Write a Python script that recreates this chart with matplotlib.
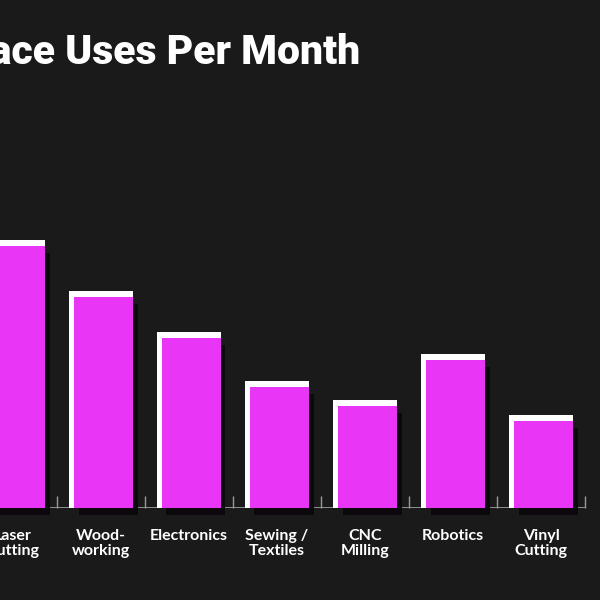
import matplotlib
matplotlib.use("Agg")
import matplotlib.pyplot as plt
from matplotlib.transforms import offset_copy
import numpy as np

categories = ["Laser\nCutting", "Wood-\nworking", "Electronics", "Sewing /\nTextiles",
              "CNC\nMilling", "Robotics", "Vinyl\nCutting"]
uses = [262, 211, 170, 121, 102, 148, 87]
title = "Makerspace Uses Per Month"

BG = "#1a1a1a"
MAG = "#e935f6"
W, H = 600, 600
fig = plt.figure(figsize=(6, 6), dpi=100, facecolor=BG)

# axes geometry in pixels (chart is a crop of a wider chart)
ax_left_px, ax_right_px = -31, 585
ax_bottom_px, ax_top_px = 92, 492
ax = fig.add_axes([ax_left_px / W, ax_bottom_px / H,
                   (ax_right_px - ax_left_px) / W, (ax_top_px - ax_bottom_px) / H])
ax.set_facecolor(BG)
n = len(categories)
ax.set_xlim(-0.5, n - 0.5)
ax.set_ylim(0, 400)

px_x = (n) / (ax_right_px - ax_left_px)      # data units per pixel (x)
px_y = 400 / (ax_top_px - ax_bottom_px)      # data units per pixel (y)

x = np.arange(n)
bw_white = 64 * px_x
bw_mag = 59 * px_x
right_edge = x + bw_white / 2

# shadow
shadow_tr = offset_copy(ax.transData, fig=fig, x=4.5, y=-6.5, units="dots")
ax.bar(right_edge - bw_mag / 2, uses, width=bw_mag, color="#0c080e",
       transform=shadow_tr, zorder=2, clip_on=False)
# white highlight
ax.bar(x, np.array(uses) + 6 * px_y, width=bw_white, color="white", zorder=3)
# magenta bar
ax.bar(right_edge - bw_mag / 2, uses, width=bw_mag, color=MAG, zorder=4)

for s in ax.spines.values():
    s.set_visible(False)
ax.axhline(0, color="#9a9a9a", lw=1.3, zorder=1.5)

ax.set_yticks([])
ax.set_xticks(x)
ax.set_xticklabels(categories, color="white", fontsize=11.5, fontfamily="Lato",
                   fontweight="bold", linespacing=1.15)
ax.tick_params(axis="x", which="major", length=0, pad=15)
ax.set_xticks(np.arange(n) + 0.5, minor=True)
ax.tick_params(axis="x", which="minor", direction="in", length=9, width=1,
               color="#9a9a9a")

fig.text(360 / W, (H - 64) / H, title, ha="right", va="baseline", color="white",
         fontsize=29.4, fontfamily="Roboto", fontweight="black")

fig.savefig("out.png", dpi=100, facecolor=BG)
